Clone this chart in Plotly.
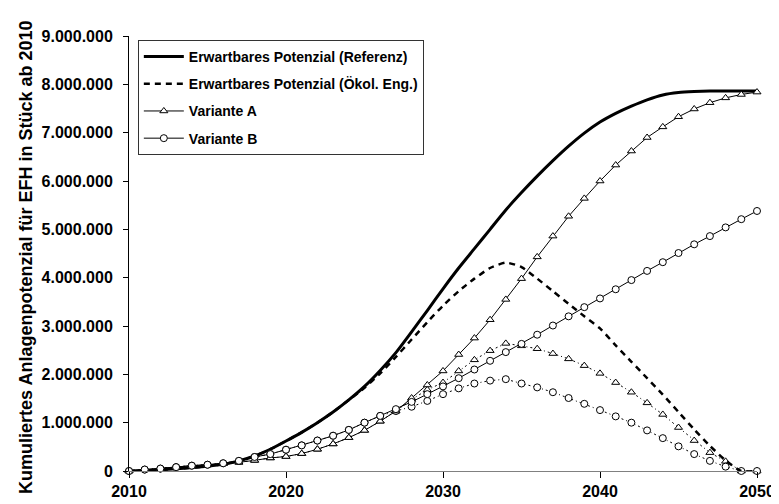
import plotly.graph_objects as go

years = list(range(2010, 2051))

# values in millions
referenz = [0, 0.01, 0.025, 0.045, 0.07, 0.10, 0.14, 0.21, 0.31, 0.45,
            0.62, 0.80, 1.00, 1.22, 1.47, 1.75, 2.08, 2.45, 2.88, 3.32,
            3.77, 4.20, 4.60, 5.00, 5.40, 5.76, 6.10, 6.42, 6.72, 6.99,
            7.22, 7.40, 7.55, 7.68, 7.78, 7.83, 7.85, 7.86, 7.86, 7.86, 7.86]

oekol = [0, 0.01, 0.025, 0.045, 0.07, 0.10, 0.14, 0.21, 0.31, 0.45,
         0.62, 0.80, 1.00, 1.22, 1.47, 1.72, 2.02, 2.36, 2.72, 3.08,
         3.42, 3.72, 3.98, 4.20, 4.31, 4.22, 3.98, 3.72, 3.46, 3.20,
         2.95, 2.60, 2.26, 1.92, 1.58, 1.22, 0.86, 0.52, 0.22, 0.0, 0.0]

variante_a = [0, 0.03, 0.05, 0.08, 0.11, 0.13, 0.15, 0.18, 0.22, 0.27,
              0.30, 0.36, 0.45, 0.56, 0.69, 0.84, 1.03, 1.24, 1.51, 1.78,
              2.07, 2.41, 2.75, 3.13, 3.55, 3.98, 4.43, 4.86, 5.27, 5.64,
              6.00, 6.33, 6.62, 6.90, 7.12, 7.33, 7.49, 7.62, 7.72, 7.79, 7.84]

variante_a_oekol = [0, 0.03, 0.05, 0.08, 0.11, 0.13, 0.15, 0.18, 0.22, 0.27,
                    0.30, 0.36, 0.45, 0.56, 0.69, 0.84, 1.03, 1.24, 1.48, 1.68,
                    1.83, 2.07, 2.30, 2.49, 2.64, 2.59, 2.53, 2.43, 2.32, 2.18,
                    2.02, 1.83, 1.63, 1.41, 1.17, 0.90, 0.63, 0.38, 0.20, 0.0, 0.0]

variante_b = [0, 0.03, 0.05, 0.08, 0.11, 0.13, 0.16, 0.21, 0.29, 0.35,
              0.44, 0.53, 0.63, 0.73, 0.85, 1.00, 1.14, 1.28, 1.43, 1.59,
              1.75, 1.92, 2.10, 2.28, 2.46, 2.63, 2.82, 3.01, 3.20, 3.39,
              3.57, 3.76, 3.95, 4.14, 4.32, 4.51, 4.69, 4.86, 5.04, 5.21, 5.38]

variante_b_oekol = [0, 0.03, 0.05, 0.08, 0.11, 0.13, 0.16, 0.21, 0.29, 0.35,
                    0.44, 0.53, 0.63, 0.73, 0.85, 1.00, 1.14, 1.24, 1.33, 1.45,
                    1.59, 1.71, 1.81, 1.87, 1.90, 1.81, 1.73, 1.63, 1.51, 1.39,
                    1.26, 1.13, 1.00, 0.84, 0.68, 0.51, 0.35, 0.21, 0.09, 0.0, 0.0]

names = ["Erwartbares Potenzial (Referenz)", "Erwartbares Potenzial (Ökol. Eng.)",
         "Variante A", "Variante B"]
y_title = "Kumuliertes Anlagenpotenzial für EFH in Stück ab 2010"
x_ticks = [2010, 2020, 2030, 2040, 2050]

M = 1_000_000
def sc(v):
    return [x * M for x in v]

FONT = "Liberation Sans, Arial, sans-serif"
fig = go.Figure()

marker_common = dict(color="white", size=7, line=dict(color="black", width=1))

fig.add_trace(go.Scatter(x=years, y=sc(variante_a_oekol), mode="lines+markers",
                         line=dict(color="black", width=1, dash="2px,3px,1px,3px"),
                         marker=dict(symbol="triangle-up", **marker_common),
                         showlegend=False, cliponaxis=False))
fig.add_trace(go.Scatter(x=years, y=sc(variante_b_oekol), mode="lines+markers",
                         line=dict(color="black", width=1, dash="2px,3px,1px,3px"),
                         marker=dict(symbol="circle", **marker_common),
                         showlegend=False, cliponaxis=False))

fig.add_trace(go.Scatter(x=years, y=sc(referenz), mode="lines", name=names[0],
                         line=dict(color="black", width=3, shape="spline", smoothing=0.6),
                         legendgroup="g1", cliponaxis=False))
fig.add_trace(go.Scatter(x=years, y=sc(oekol), mode="lines", name=names[1],
                         line=dict(color="black", width=2.5, dash="6px,5px", shape="spline", smoothing=0.6),
                         legendgroup="g2", cliponaxis=False))
fig.add_trace(go.Scatter(x=years, y=sc(variante_a), mode="lines+markers", name=names[2],
                         line=dict(color="black", width=1),
                         marker=dict(symbol="triangle-up", **marker_common),
                         legendgroup="g3", cliponaxis=False))
fig.add_trace(go.Scatter(x=years, y=sc(variante_b), mode="lines+markers", name=names[3],
                         line=dict(color="black", width=1),
                         marker=dict(symbol="circle", **marker_common),
                         legendgroup="g4", cliponaxis=False))

fig.add_annotation(text=y_title, textangle=-90, xref="paper", yref="paper",
                   x=(16 - 121) / 640, y=(467 - 251) / 439, xanchor="center", yanchor="middle",
                   showarrow=False,
                   font=dict(family=FONT, size=18, color="black", weight="bold"))

fig.update_layout(
    width=779, height=504,
    margin=dict(l=121, r=18, t=28, b=37),
    paper_bgcolor="white", plot_bgcolor="white",
    separators=",.",
    font=dict(family=FONT, color="black"),
    showlegend=True,
    legend=dict(x=(130 - 121) / 640, y=(467 - 32) / 439, xanchor="left", yanchor="top",
                bgcolor="white", bordercolor="#333333", borderwidth=1,
                font=dict(family=FONT, size=14, color="black", weight="bold"),
                tracegroupgap=6, traceorder="grouped", itemwidth=40),
    xaxis=dict(range=[2010, 2050], tickvals=x_ticks, ticktext=[str(t) for t in x_ticks],
               showgrid=False, zeroline=False, showline=True, linecolor="#808080", linewidth=1,
               ticks="outside", ticklen=6, tickcolor="black",
               tickfont=dict(family=FONT, size=16, color="black", weight="bold")),
    yaxis=dict(range=[0, 9 * M], dtick=M, tickformat=",.0f",
               showgrid=False, zeroline=False, showline=True, linecolor="black", linewidth=1,
               ticks="outside", ticklen=5, tickcolor="black", ticklabelstandoff=7,
               tickfont=dict(family=FONT, size=16, color="black", weight="bold")),
)

fig.write_html("out.html")
